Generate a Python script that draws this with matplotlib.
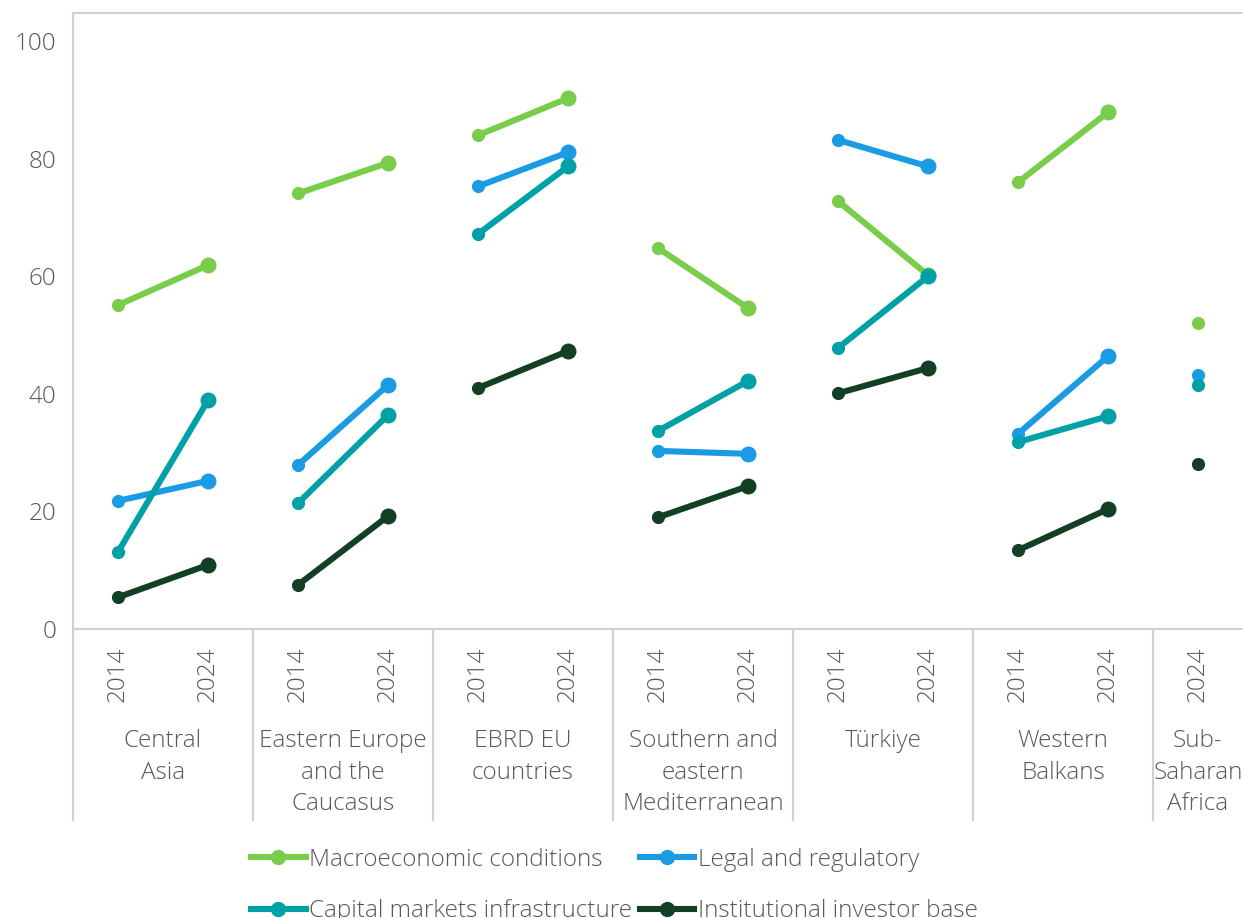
import numpy as np
import matplotlib.pyplot as plt
from matplotlib.lines import Line2D
import matplotlib.transforms as mtransforms

plt.rcParams['font.family'] = ['Open Sans', 'DejaVu Sans']
plt.rcParams['font.weight'] = 300

# regions and their year columns
regions = ["Central\nAsia", "Eastern Europe\nand the\nCaucasus", "EBRD EU\ncountries",
           "Southern and\neastern\nMediterranean", "Türkiye", "Western\nBalkans",
           "Sub-\nSaharan\nAfrica"]
region_years = [["2014", "2024"]] * 6 + [["2024"]]

series = ["Macroeconomic conditions", "Legal and regulatory",
          "Capital markets infrastructure", "Institutional investor base"]
colors = ["#7ACC4B", "#1B9BE3", "#00A0A7", "#133F25"]

# scores per region, 2014 (None where no data) and 2024
macro_2014 = [55.1, 74.1, 84.0, 64.8, 72.8, 76.0, None]
macro_2024 = [61.9, 79.3, 90.3, 54.6, 60.2, 87.9, 52.0]
legal_2014 = [21.8, 27.9, 75.3, 30.3, 83.2, 33.2, None]
legal_2024 = [25.2, 41.5, 81.1, 29.8, 78.7, 46.4, 43.2]
capital_2014 = [13.1, 21.4, 67.2, 33.7, 47.8, 31.8, None]
capital_2024 = [38.9, 36.4, 78.7, 42.2, 60.0, 36.2, 41.5]
inst_2014 = [5.4, 7.5, 41.0, 19.0, 40.1, 13.4, None]
inst_2024 = [10.9, 19.2, 47.3, 24.3, 44.4, 20.4, 28.1]

data = [(macro_2014, macro_2024), (legal_2014, legal_2024),
        (capital_2014, capital_2024), (inst_2014, inst_2024)]

GRAY = "#595959"
SPINE = "#D0D0D0"
FS = 17.5

fig = plt.figure(figsize=(12.43, 9.18), dpi=100)
ax = fig.add_axes([73 / 1243, 1 - 629 / 918, 1 - 73 / 1243, (629 - 13) / 918])

# x slots for each region
slots = []
pos = 0
for yrs in region_years:
    slots.append(list(range(pos, pos + len(yrs))))
    pos += len(yrs)

for (v14, v24), col, name in zip(data, colors, series):
    for i, sl in enumerate(slots):
        if v14[i] is not None:
            ax.plot(sl, [v14[i], v24[i]], color=col, lw=4.4, solid_capstyle='round', zorder=2)
            ax.plot(sl[0], v14[i], 'o', color=col, ms=9.5, mec='none', zorder=3)
            ax.plot(sl[1], v24[i], 'o', color=col, ms=11.5, mec='none', zorder=3)
        else:
            ax.plot(sl[-1], v24[i], 'o', color=col, ms=9.5, mec='none', zorder=3)

ax.set_xlim(-0.5, pos - 0.5)
ax.set_ylim(0, 104.8)
ax.set_yticks(range(0, 101, 20))
ax.tick_params(axis='y', length=0, pad=12, labelsize=FS, labelcolor=GRAY)
ax.set_xticks([])

for s in ['top', 'bottom', 'left']:
    ax.spines[s].set_color(SPINE)
    ax.spines[s].set_linewidth(1.5)
ax.spines['right'].set_visible(False)

trans = mtransforms.blended_transform_factory(ax.transData, ax.transAxes)
px = 1 / 616  # one pixel in axes fraction (vertical)
# year labels
for sl, yrs in zip(slots, region_years):
    for x, yr in zip(sl, yrs):
        ax.text(x, -18 * px, yr, rotation=90, ha='center', va='top', fontsize=FS,
                color=GRAY, transform=trans)
# region labels
for sl, reg in zip(slots, regions):
    ax.text(np.mean(sl), -100 * px, reg, ha='center', va='top', fontsize=FS,
            color=GRAY, linespacing=1.42, transform=trans)
# group separators, plus the left axis extension
bounds = [-0.5] + [sl[-1] + 0.5 for sl in slots[:-1]]
for b in bounds:
    ax.plot([b, b], [0, -191 * px], color=SPINE, lw=1.5, transform=trans, clip_on=False)

handles = [Line2D([], [], color=c, lw=4.4, marker='o', ms=11, mec='none') for c in colors]
# legend fills column by column, so reorder to read row by row
order = [0, 2, 1, 3]
fig.legend([handles[i] for i in order], [series[i] for i in order], ncol=2, loc='upper left',
           bbox_to_anchor=(251 / 1243, 1 - 848 / 918),
           frameon=False, fontsize=FS, labelcolor=GRAY, handlelength=2.25, handletextpad=0.15,
           columnspacing=0.3, labelspacing=1.12, borderaxespad=0, borderpad=0)

fig.savefig("out.png", dpi=100)
